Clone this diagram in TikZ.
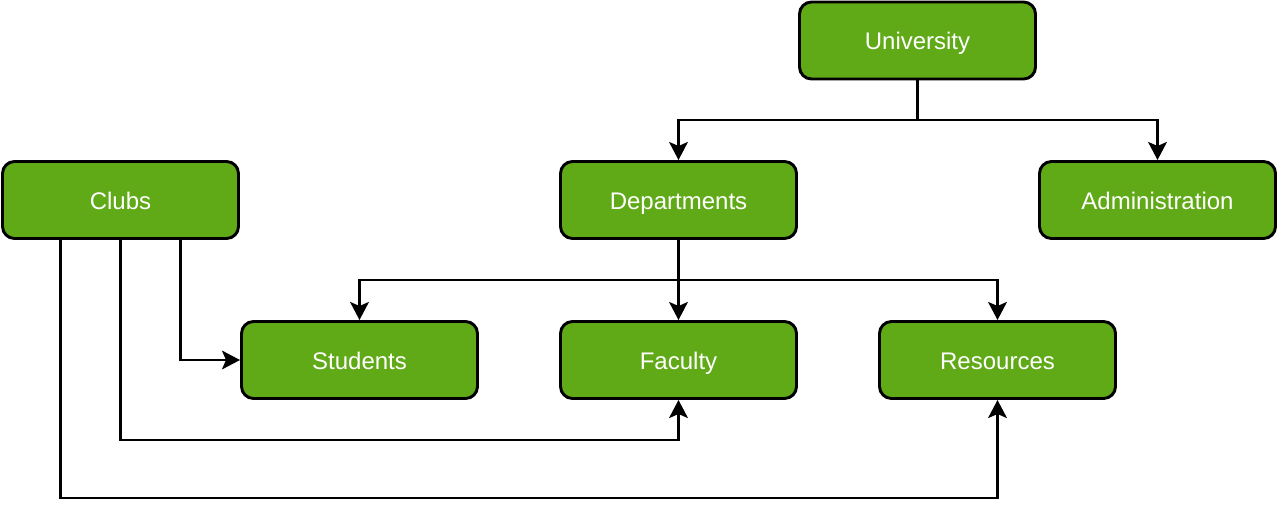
\documentclass[tikz,border=0pt]{standalone}
\usepackage{fontspec}
\setmainfont{Liberation Sans}
\usetikzlibrary{arrows.meta,calc}
\definecolor{boxgreen}{HTML}{60A917}
\begin{document}
\begin{tikzpicture}[x=0.75pt,y=-0.75pt,
  box/.style={draw=black,fill=boxgreen,line width=2.2pt,rounded corners=9pt,
    minimum width=177pt,minimum height=57.75pt,inner sep=0pt,
    text height=15pt,text depth=1pt,
    text=white,font=\fontsize{18}{21}\selectfont},
  conn/.style={draw=black,line width=2.2pt,
    -{Stealth[length=13.5pt,width=14pt,inset=3pt]}}]
\useasboundingbox (0,0) rectangle (1281,517);
\node[box] (U) at (917.5,40.5) {University};
\node[box] (C) at (120.5,200) {Clubs};
\node[box] (D) at (678.5,200) {Departments};
\node[box] (A) at (1157.5,200) {Administration};
\node[box] (S) at (359.5,360) {Students};
\node[box] (F) at (678.5,360) {Faculty};
\node[box] (R) at (997.5,360) {Resources};
\coordinate (cr) at ($(C.south)+(60,0)$);
\coordinate (cl) at ($(C.south)+(-60,0)$);
\draw[conn] (U.south) -- (U.south |- 0,120) -| (D.north);
\draw[conn] (U.south) -- (U.south |- 0,120) -| (A.north);
\draw[conn] (D.south) -- (F.north);
\draw[conn] (D.south) -- (D.south |- 0,280) -| (S.north);
\draw[conn] (D.south) -- (D.south |- 0,280) -| (R.north);
\draw[conn] (cr) |- (S.west);
\draw[conn] (C.south) -- (C.south |- 0,440) -| (F.south);
\draw[conn] (cl) -- (cl |- 0,498) -| (R.south);
\end{tikzpicture}
\end{document}
